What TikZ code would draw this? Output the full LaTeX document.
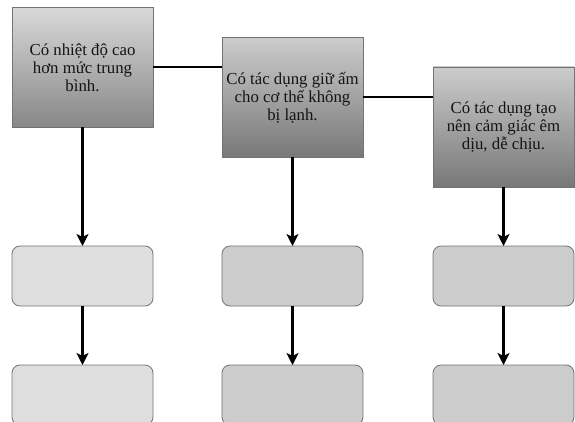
\documentclass[tikz,border=0pt]{standalone}
\usepackage{fontspec}
\setmainfont{Liberation Serif}
\usetikzlibrary{arrows.meta,calc}

\tikzset{
  topbox/.style={draw=black!55, line width=0.8pt, rectangle, anchor=north west,
    inner sep=0pt, outer sep=0pt, minimum width=141pt, minimum height=120pt,
    align=center, font=\fontsize{16.8}{18}\selectfont, text=black!92},
  lightshade/.style={top color=black!15, bottom color=black!47},
  darkshade/.style={top color=black!20, bottom color=black!53},
  stepbox/.style={draw=black!55, line width=0.8pt, rectangle, rounded corners=8pt,
    anchor=north west, inner sep=0pt, outer sep=0pt,
    minimum width=141pt, minimum height=60pt},
  pale/.style={fill=black!13},
  mid/.style={fill=black!20},
  link/.style={line width=2pt, black},
  flow/.style={line width=2.5pt, black, -{Stealth[length=12pt, width=12pt, inset=3pt]}}
}

\begin{document}
\begin{tikzpicture}[x=1pt, y=-1pt]
  \clip (0,0) rectangle (575,422);
  \fill[white] (0,0) rectangle (575,422);

  % heading boxes
  \node[topbox, lightshade] (b1) at (12,7.5)
    {Có nhiệt độ cao\\hơn mức trung\\bình.};
  \node[topbox, darkshade] (b2) at (222,37.5)
    {Có tác dụng giữ ấm\\cho cơ thể không\\bị lạnh.};
  \node[topbox, darkshade] (b3) at (433,67)
    {Có tác dụng tạo\\nên cảm giác êm\\dịu, dễ chịu.};

  % links between the heading boxes
  \draw[link] (b1.east) -- (b1.east -| b2.west);
  \draw[link] (b2.east) -- (b2.east -| b3.west);

  % empty step boxes
  \node[stepbox, pale] (c1) at (12,246) {};
  \node[stepbox, mid]  (c2) at (222,246) {};
  \node[stepbox, mid]  (c3) at (433,246) {};
  \node[stepbox, pale] (d1) at (12,365) {};
  \node[stepbox, mid]  (d2) at (222,365) {};
  \node[stepbox, mid]  (d3) at (433,365) {};

  % downward arrows
  \draw[flow] (b1.south) -- (c1.north);
  \draw[flow] (b2.south) -- (c2.north);
  \draw[flow] (b3.south) -- (c3.north);
  \draw[flow] (c1.south) -- (d1.north);
  \draw[flow] (c2.south) -- (d2.north);
  \draw[flow] (c3.south) -- (d3.north);
\end{tikzpicture}
\end{document}
